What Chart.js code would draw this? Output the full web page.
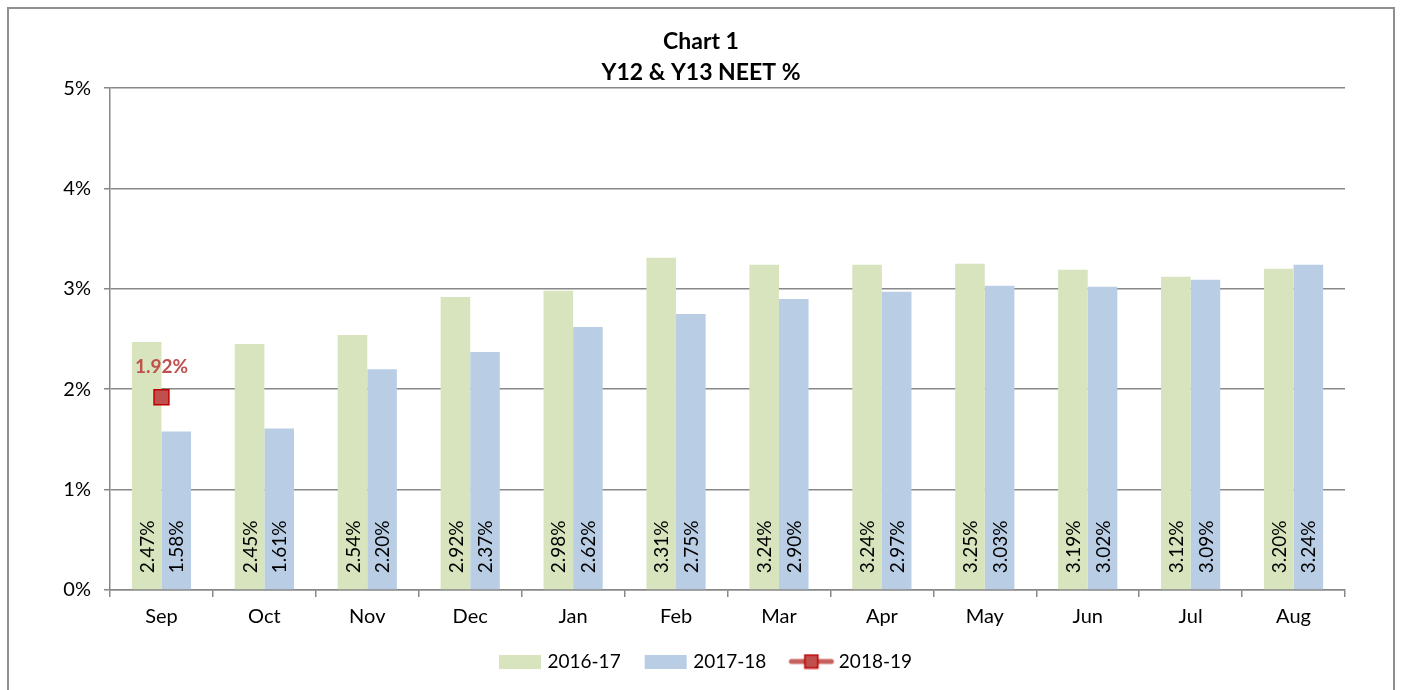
<!DOCTYPE html>
<html>
<head>
<meta charset="utf-8">
<script src="https://cdn.jsdelivr.net/npm/chart.js@4/dist/chart.umd.min.js"></script>
<style>
  html, body { margin: 0; padding: 0; background: #fff; overflow: hidden; }
  #wrap { position: relative; width: 1402px; height: 690px; }
  #frame { position: absolute; left: 7px; top: 7px; width: 1388px; height: 700px; border: 2px solid #8f8f8f; box-sizing: border-box; pointer-events: none; }
  canvas { position: absolute; left: 0; top: 0; }
</style>
</head>
<body>
<div id="wrap">
  <canvas id="c" width="1402" height="690"></canvas>
  <div id="frame"></div>
</div>
<script>
const titleLines = ['Chart 1', 'Y12 & Y13 NEET %'];
const months = ['Sep', 'Oct', 'Nov', 'Dec', 'Jan', 'Feb', 'Mar', 'Apr', 'May', 'Jun', 'Jul', 'Aug'];
const series1617 = [2.47, 2.45, 2.54, 2.92, 2.98, 3.31, 3.24, 3.24, 3.25, 3.19, 3.12, 3.20];
const series1718 = [1.58, 1.61, 2.20, 2.37, 2.62, 2.75, 2.90, 2.97, 3.03, 3.02, 3.09, 3.24];
const series1819 = [1.92, null, null, null, null, null, null, null, null, null, null, null];
const seriesNames = ['2016-17', '2017-18', '2018-19'];
const yTicks = [0, 1, 2, 3, 4, 5];

const FONT = 'Lato, "Open Sans", sans-serif';
const GREEN = '#D7E4BD';
const BLUE = '#B9CDE5';
const RED_FILL = '#C0504D';
const RED_BORDER = '#C00000';
const GRID = '#888888';

// legend icons: image 60 wide, centred over a 48px legend box area
function boxImg(color) {
  const c = document.createElement('canvas');
  c.width = 60; c.height = 14;
  const g = c.getContext('2d');
  g.fillStyle = color; g.fillRect(15, 0, 42, 14);
  return c;
}
function lineImg() {
  const c = document.createElement('canvas');
  c.width = 60; c.height = 16;
  const g = c.getContext('2d');
  g.strokeStyle = 'rgba(192,80,77,0.9)'; g.lineWidth = 5; g.lineCap = 'round';
  g.beginPath(); g.moveTo(16, 8); g.lineTo(56, 8); g.stroke();
  g.fillStyle = RED_FILL; g.fillRect(29.5, 1.5, 13, 13);
  g.strokeStyle = RED_BORDER; g.lineWidth = 1.5; g.strokeRect(29.5, 1.5, 13, 13);
  return c;
}

const labelPlugin = {
  id: 'valueLabels',
  afterDatasetsDraw(chart) {
    const ctx = chart.ctx;
    chart.data.datasets.forEach((ds, i) => {
      const meta = chart.getDatasetMeta(i);
      if (meta.hidden) return;
      meta.data.forEach((el, j) => {
        const v = ds.data[j];
        if (v === null || v === undefined) return;
        const txt = v.toFixed(2) + '%';
        ctx.save();
        if (ds.type === 'line') {
          ctx.font = 'bold 19px ' + FONT;
          ctx.fillStyle = RED_FILL;
          ctx.textAlign = 'center';
          ctx.textBaseline = 'middle';
          ctx.fillText(txt, el.x, el.y - 30);
        } else {
          ctx.font = '19px ' + FONT;
          ctx.fillStyle = '#000';
          ctx.translate(el.x, el.base - 16);
          ctx.rotate(-Math.PI / 2);
          ctx.textAlign = 'left';
          ctx.textBaseline = 'middle';
          ctx.fillText(txt, 0, 1);
        }
        ctx.restore();
      });
    });
  }
};

new Chart(document.getElementById('c'), {
  type: 'bar',
  data: {
    labels: months,
    datasets: [
      { label: seriesNames[0], data: series1617, backgroundColor: GREEN, order: 2, categoryPercentage: 0.575, barPercentage: 1.0 },
      { label: seriesNames[1], data: series1718, backgroundColor: BLUE, order: 2, categoryPercentage: 0.575, barPercentage: 1.0 },
      { label: seriesNames[2], data: series1819, type: 'line', order: 1,
        borderColor: 'rgba(192,80,77,0.9)', borderWidth: 4, backgroundColor: RED_FILL,
        pointStyle: 'rect', pointRadius: 10.5, pointHoverRadius: 10.5,
        pointBackgroundColor: RED_FILL, pointBorderColor: RED_BORDER, pointBorderWidth: 1.5 }
    ]
  },
  options: {
    responsive: false,
    animation: false,
    events: [],
    layout: { padding: { left: 0, right: 0, top: 0, bottom: 9 } },
    plugins: {
      title: {
        display: true,
        text: titleLines,
        color: '#000',
        font: { family: FONT, size: 23, weight: 'bold', lineHeight: 1.35 },
        padding: { top: 26, bottom: 0 }
      },
      legend: {
        display: true,
        position: 'bottom',
        labels: {
          usePointStyle: true,
          pointStyleWidth: 48,
          boxHeight: 16,
          padding: 15,
          color: '#000',
          font: { family: FONT, size: 19 },
          generateLabels(chart) {
            const imgs = [boxImg(GREEN), boxImg(BLUE), lineImg()];
            return chart.data.datasets.map((ds, i) => ({
              text: ds.label, pointStyle: imgs[i], datasetIndex: i,
              fillStyle: 'transparent', strokeStyle: 'transparent', lineWidth: 0, hidden: false
            }));
          }
        }
      },
      tooltip: { enabled: false }
    },
    scales: {
      x: {
        grid: { display: true, offset: true, drawOnChartArea: false, drawTicks: true, tickLength: 7, color: GRID, lineWidth: 1.5 },
        border: { display: true, color: GRID, width: 1.5 },
        ticks: { color: '#000', font: { family: FONT, size: 20 }, padding: 8, maxRotation: 0 }
      },
      y: {
        min: 0, max: 5,
        afterBuildTicks(scale) { scale.ticks = yTicks.map(v => ({ value: v })); },
        afterFit(scale) { scale.width = 110; },
        grid: { color: GRID, lineWidth: 1.5, tickLength: 6, drawTicks: true },
        border: { display: true, color: GRID, width: 1.5 },
        ticks: { color: '#000', font: { family: FONT, size: 20 }, padding: 13, callback: v => v + '%' }
      },
      yRight: {
        position: 'right',
        display: true,
        afterFit(scale) { scale.width = 57; },
        grid: { display: false, drawTicks: false },
        border: { display: false },
        ticks: { display: false }
      }
    }
  },
  plugins: [labelPlugin]
});
</script>
</body>
</html>
